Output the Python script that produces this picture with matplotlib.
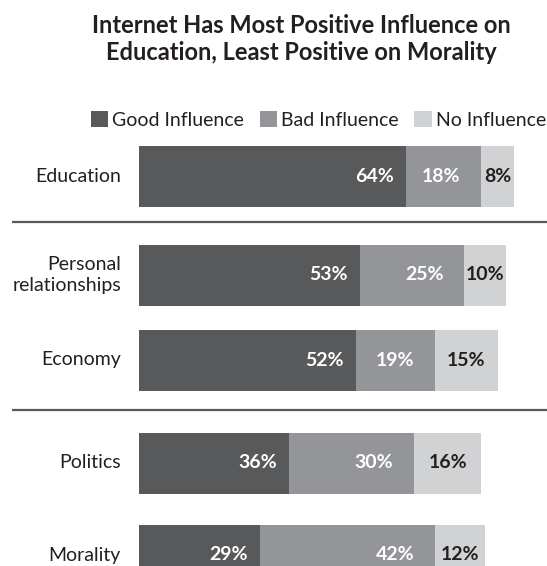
import matplotlib.pyplot as plt

categories = ['Education', 'Personal\nrelationships', 'Economy', 'Politics', 'Morality']
good = [64, 53, 52, 36, 29]
bad = [18, 25, 19, 30, 42]
none_ = [8, 10, 15, 16, 12]
series_names = ['Good Influence', 'Bad Influence', 'No Influence']
title = 'Internet Has Most Positive Influence on\nEducation, Least Positive on Morality'

# layout (pixels)
W, H = 547, 566
x0 = 139          # where 0% sits
px_per = 4.17     # pixels per percent
row_y = [176, 275, 360, 463, 555]
sep_y = [222, 410]
bar_h = 61

col_good = '#58595b'
col_bad = '#939598'
col_none = '#d1d2d4'
txt_dark = '#231f20'
FONT = ['Lato', 'DejaVu Sans']
plt.rcParams['font.family'] = FONT


def px(p):
    return p / px_per


def main():
    fig = plt.figure(figsize=(W / 100, H / 100), dpi=100)
    ax = fig.add_axes([0, 0, 1, 1])
    ax.set_xlim(-x0 / px_per, (W - x0) / px_per)
    ax.set_ylim(H, 0)
    ax.axis('off')

    b1 = ax.barh(row_y, good, height=bar_h, color=col_good, label=series_names[0])
    b2 = ax.barh(row_y, bad, left=good, height=bar_h, color=col_bad, label=series_names[1])
    left3 = [g + b for g, b in zip(good, bad)]
    b3 = ax.barh(row_y, none_, left=left3, height=bar_h, color=col_none, label=series_names[2])

    for i, y in enumerate(row_y):
        ax.text(good[i] - px(12), y, f'{good[i]}%', ha='right', va='center',
                color='white', fontsize=14, fontweight='bold')
        ax.text(left3[i] - px(21), y, f'{bad[i]}%', ha='right', va='center',
                color='white', fontsize=14, fontweight='bold')
        ax.text(left3[i] + none_[i] / 2, y, f'{none_[i]}%', ha='center', va='center',
                color=txt_dark, fontsize=14, fontweight='bold')
        ax.text(px(-18), y, categories[i], ha='right', va='center',
                multialignment='right', color=txt_dark, fontsize=14, linespacing=1.25)

    for y in sep_y:
        ax.hlines(y, px(12 - x0), px(W - x0), color=col_good, lw=1.6)

    fig.text(301 / W, 1 - 39 / H, title, ha='center', va='center',
             fontsize=17, fontweight='bold', color=txt_dark, linespacing=1.2)

    fig.legend(handles=[b1, b2, b3], loc='center right',
               bbox_to_anchor=(1.03, 1 - 120 / H), ncol=3, frameon=False,
               handlelength=0.9, handleheight=0.9, handletextpad=0.2,
               columnspacing=0.8, fontsize=14, labelcolor=txt_dark)

    fig.savefig('out.png', dpi=100)


if __name__ == '__main__':
    main()
